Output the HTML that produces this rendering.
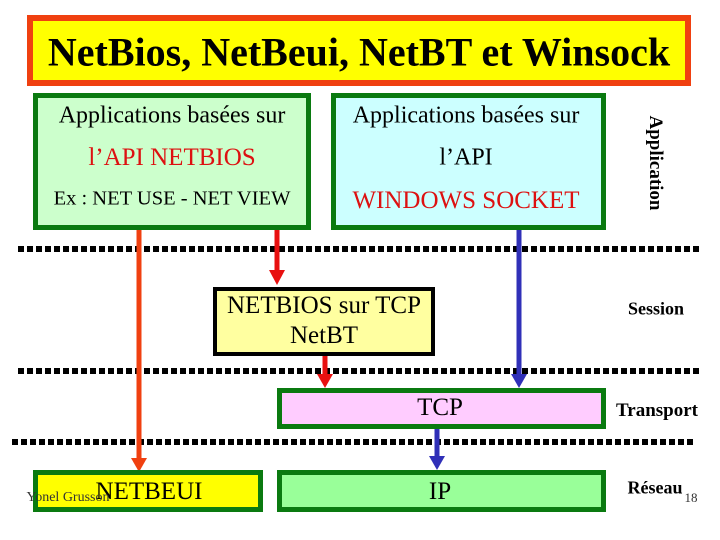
<!DOCTYPE html>
<html><head><meta charset="utf-8"><style>
body{margin:0;width:720px;height:540px;background:#fff;position:relative;overflow:hidden;font-family:"Liberation Serif",serif}
.a{position:absolute;box-sizing:border-box}
.t{position:absolute;white-space:nowrap;transform:translate(-50%,-50%)}
.dots{position:absolute;height:6px;background:repeating-linear-gradient(90deg,#000 0 6px,transparent 6px 9px)}
</style></head><body>
<div class="a" style="left:27px;top:15px;width:664px;height:71px;border:6px solid #f04010;background:#ffff00"></div>
<div class="t" style="left:359px;top:52px;font-size:40px;font-weight:bold">NetBios, NetBeui, NetBT et Winsock</div>

<div class="a" style="left:33px;top:93px;width:278px;height:137px;border:5px solid #0a7a10;background:#ccffcc"></div>
<div class="a" style="left:331px;top:93px;width:275px;height:137px;border:5px solid #0a7a10;background:#ccffff"></div>
<div class="t" style="left:172px;top:116px;font-size:24px">Applications basées sur</div>
<div class="t" style="left:172px;top:158px;font-size:25px;color:#dd1111">l’API NETBIOS</div>
<div class="t" style="left:172px;top:199px;font-size:20.5px">Ex : NET USE - NET VIEW</div>
<div class="t" style="left:466px;top:116px;font-size:24px">Applications basées sur</div>
<div class="t" style="left:466px;top:158px;font-size:24px">l’API</div>
<div class="t" style="left:466px;top:201px;font-size:25px;color:#dd1111">WINDOWS SOCKET</div>
<div class="t" style="left:655px;top:163px;font-size:19px;font-weight:bold;transform:translate(-50%,-50%) rotate(90deg)">Application</div>

<div class="dots" style="left:18px;top:246px;width:684px"></div>
<div class="dots" style="left:18px;top:368px;width:684px"></div>
<div class="dots" style="left:12px;top:439px;width:684px"></div>

<svg class="a" style="left:0;top:0" width="720" height="540">
<line x1="139" y1="230" x2="139" y2="460" stroke="#f04010" stroke-width="5"/>
<polygon points="131,458 147,458 139,472" fill="#f04010"/>
<line x1="277" y1="230" x2="277" y2="272" stroke="#e81010" stroke-width="5"/>
<polygon points="269,270 285,270 277,285" fill="#e81010"/>
<line x1="519" y1="230" x2="519" y2="376" stroke="#3030b8" stroke-width="5"/>
<polygon points="511,374 527,374 519,388" fill="#3030b8"/>
<line x1="325" y1="356" x2="325" y2="376" stroke="#e81010" stroke-width="5"/>
<polygon points="317,374 333,374 325,388" fill="#e81010"/>
<line x1="437" y1="429" x2="437" y2="458" stroke="#3030b8" stroke-width="5"/>
<polygon points="429,456 445,456 437,470" fill="#3030b8"/>
</svg>

<div class="a" style="left:213px;top:287px;width:222px;height:69px;border:4px solid #000;background:#ffffa0"></div>
<div class="t" style="left:324px;top:306px;font-size:25px">NETBIOS sur TCP</div>
<div class="t" style="left:324px;top:336px;font-size:25px">NetBT</div>
<div class="t" style="left:656px;top:309px;font-size:18px;font-weight:bold">Session</div>

<div class="a" style="left:277px;top:388px;width:329px;height:41px;border:5px solid #0a7a10;background:#ffccff"></div>
<div class="t" style="left:440px;top:408px;font-size:25px">TCP</div>
<div class="t" style="left:657px;top:411px;font-size:19px;font-weight:bold">Transport</div>

<div class="a" style="left:33px;top:470px;width:230px;height:42px;border:5px solid #0a7a10;background:#ffff00"></div>
<div class="a" style="left:277px;top:470px;width:329px;height:42px;border:5px solid #0a7a10;background:#99ff99"></div>
<div class="t" style="left:149px;top:492px;font-size:25px">NETBEUI</div>
<div class="t" style="left:68px;top:498px;font-size:14px;color:#333">Yonel Grusson</div>
<div class="t" style="left:440px;top:492px;font-size:25px">IP</div>
<div class="t" style="left:655px;top:488px;font-size:18px;font-weight:bold">Réseau</div>
<div class="t" style="left:691px;top:498px;font-size:13px;color:#333">18</div>
</body></html>
